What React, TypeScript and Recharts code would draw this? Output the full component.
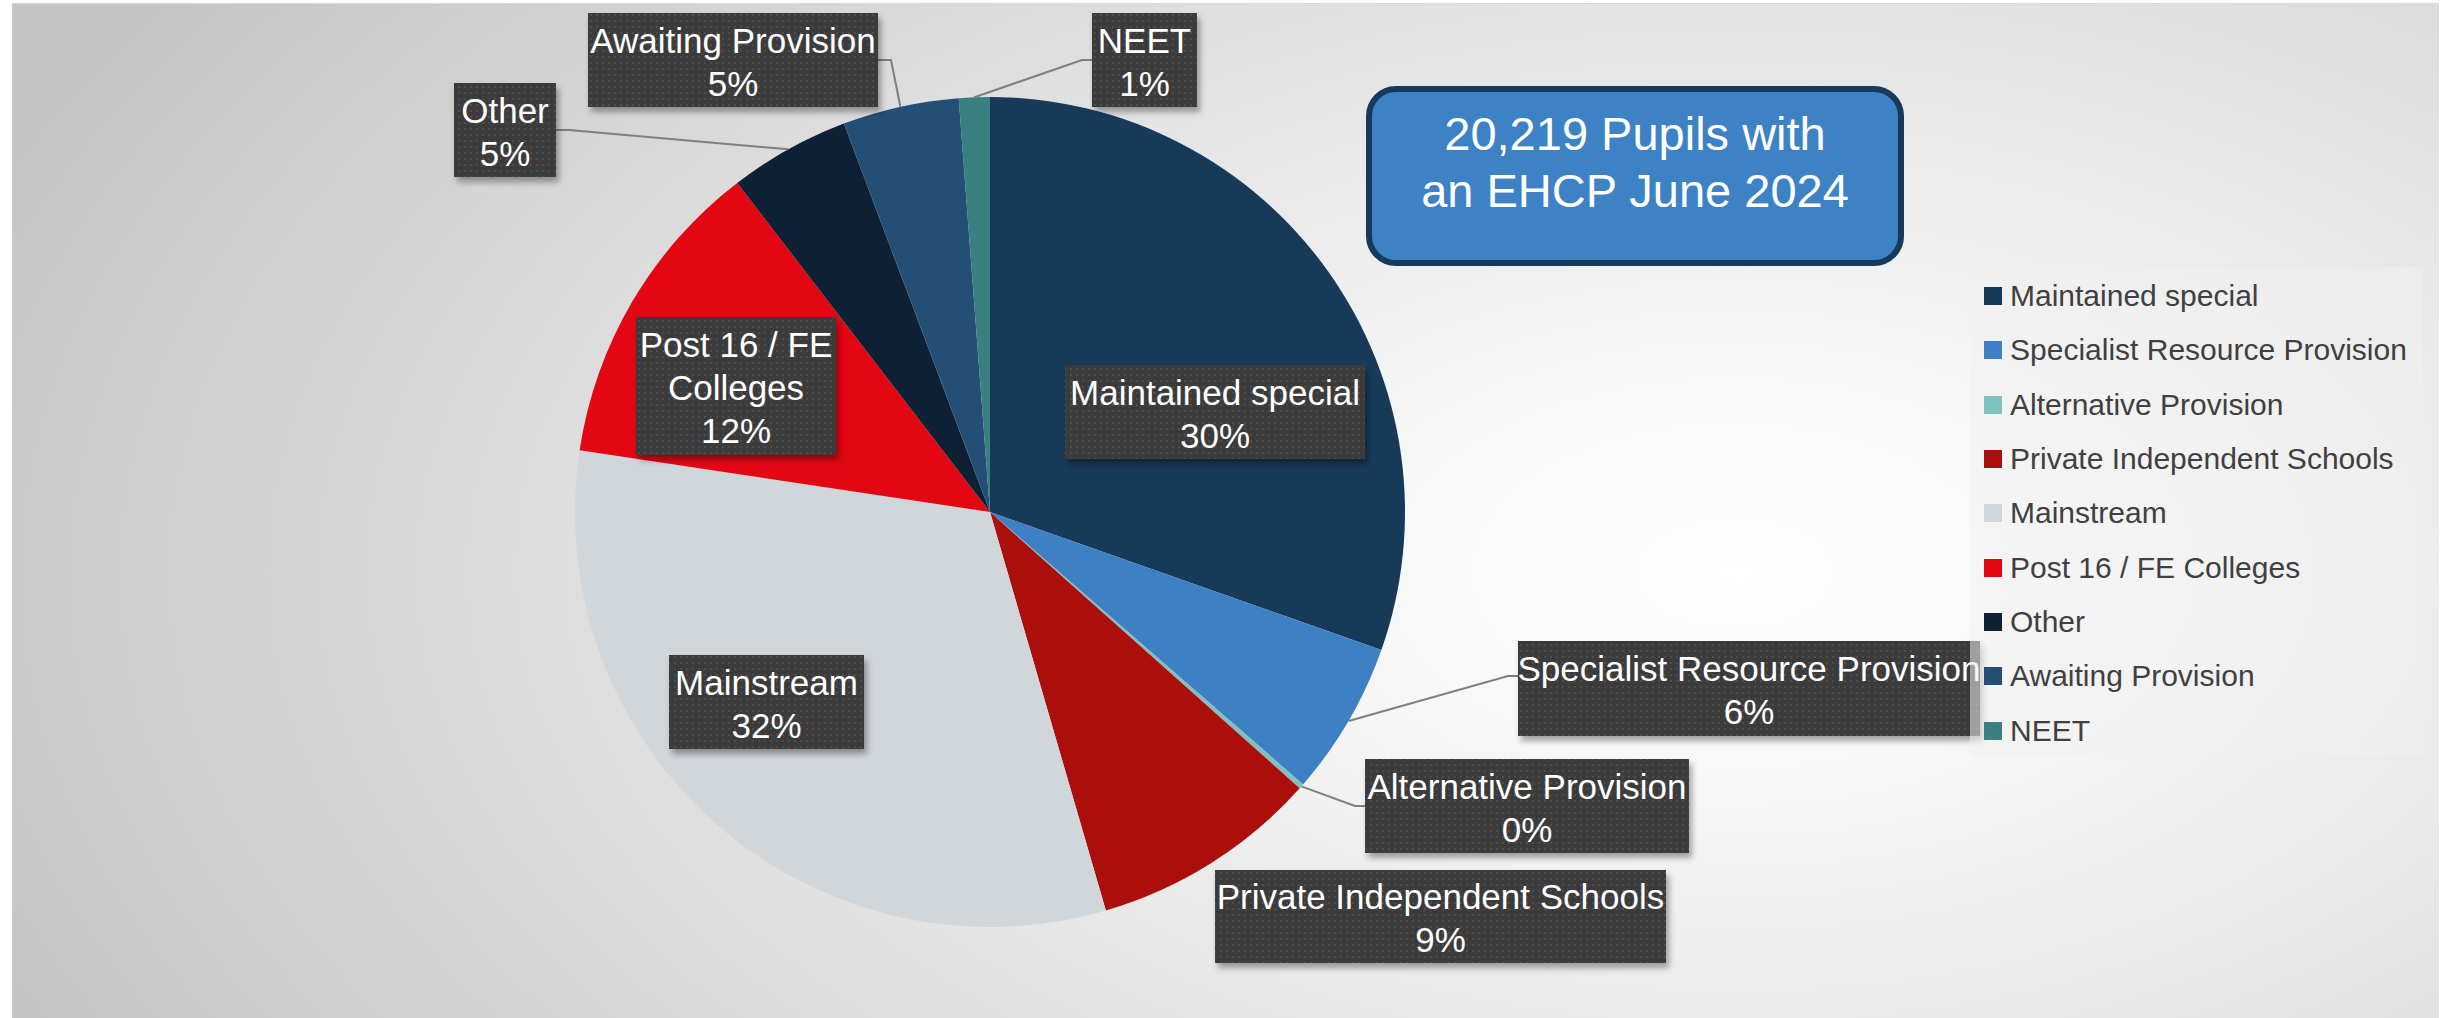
import React from "react";
import { PieChart, Pie, Cell, Legend } from "recharts";

// EHCP placements, June 2024 (pupil counts)
const categories = [
  "Maintained special",
  "Specialist Resource Provision",
  "Alternative Provision",
  "Private Independent Schools",
  "Mainstream",
  "Post 16 / FE Colleges",
  "Other",
  "Awaiting Provision",
  "NEET",
];
const pupils = [6146, 1213, 40, 1800, 6445, 2467, 950, 915, 243];
const colours = ["#173a59", "#3d80c4", "#7fc0c0", "#ab0f0c", "#d1d6db", "#e30613", "#0e2033", "#234e76", "#3b8080"];
const labelText: Record<string, string[]> = { "Post 16 / FE Colleges": ["Post 16 / FE", "Colleges"] };
const titleLines = ["20,219 Pupils with", "an EHCP June 2024"];

const data = categories.map((name, i) => ({ name, value: pupils[i] }));

const FONT = "'Liberation Sans', Arial, sans-serif";
const RAD = Math.PI / 180;

// where each data label box sits, relative to the pie centre
type Box = { dx: number; dy: number; w: number; h: number; side?: "left" | "right"; ly?: number };
const boxes: Record<string, Box> = {
  "Maintained special": { dx: 75, dy: -147, w: 300, h: 94 },
  "Specialist Resource Provision": { dx: 528, dy: 129, w: 462, h: 95, side: "left", ly: 35 },
  "Alternative Provision": { dx: 375, dy: 247, w: 324, h: 94, side: "left" },
  "Private Independent Schools": { dx: 225, dy: 358, w: 451, h: 93 },
  Mainstream: { dx: -321, dy: 143, w: 195, h: 94 },
  "Post 16 / FE Colleges": { dx: -354, dy: -195, w: 200, h: 138 },
  Other: { dx: -536, dy: -429, w: 102, h: 94, side: "right" },
  "Awaiting Provision": { dx: -402, dy: -499, w: 290, h: 94, side: "right" },
  NEET: { dx: 102, dy: -499, w: 105, h: 94, side: "left" },
};

const renderLabel = (p: any) => {
  const { cx, cy, midAngle, outerRadius, name, percent, index } = p;
  const b = boxes[name];
  if (!b) return null;
  const x = cx + b.dx;
  const y = cy + b.dy;
  const lines = [...(labelText[name] ?? [name]), `${Math.round(percent * 100)}%`];
  const n = lines.length;
  let leader = null;
  if (b.side) {
    const px = cx + outerRadius * Math.cos(-midAngle * RAD);
    const py = cy + outerRadius * Math.sin(-midAngle * RAD);
    const ly = y + (b.ly ?? b.h / 2);
    const ex = b.side === "left" ? x : x + b.w;
    const kx = b.side === "left" ? ex - 10 : ex + 13;
    leader = <polyline points={`${px},${py} ${kx},${ly} ${ex},${ly}`} fill="none" stroke="#7f7f7f" strokeWidth={2} />;
  }
  return (
    <g key={name}>
      {index === 0 && (
        <defs>
          <pattern id="dots" width="6" height="6" patternUnits="userSpaceOnUse">
            <rect width="6" height="6" fill="#3a3a3a" />
            <rect x="2" y="2" width="2" height="2" fill="#4e4e4e" />
          </pattern>
          <filter id="boxShadow" x="-10%" y="-10%" width="130%" height="140%">
            <feDropShadow dx="3" dy="5" stdDeviation="3" floodColor="#000" floodOpacity="0.35" />
          </filter>
        </defs>
      )}
      {leader}
      <rect x={x} y={y} width={b.w} height={b.h} fill="url(#dots)" filter="url(#boxShadow)" />
      {lines.map((t, i) => (
        <text key={i} x={x + b.w / 2} y={y + b.h / 2 + (i - (n - 1) / 2) * 43 + 14} textAnchor="middle"
          fill="#ffffff" fontFamily={FONT} fontSize={35}>
          {t}
        </text>
      ))}
    </g>
  );
};

const renderLegend = () => (
  <div style={{ background: "rgba(240,240,240,0.55)", width: 453, height: 490, boxSizing: "border-box", paddingTop: 2 }}>
    {categories.map((c, i) => (
      <div key={c} style={{ display: "flex", alignItems: "center", height: 54.3, paddingLeft: 14 }}>
        <div style={{ width: 18, height: 18, background: colours[i], marginRight: 8 }} />
        <span style={{ fontFamily: FONT, fontSize: 30, color: "#404040", whiteSpace: "nowrap" }}>{c}</span>
      </div>
    ))}
  </div>
);

export default function App() {
  return (
    <div style={{ position: "absolute", left: 0, top: 0, width: 2453, height: 1018, background: "#fff", overflow: "hidden" }}>
      <div style={{
        position: "absolute", left: 12, top: 3, width: 2427, height: 1015,
        borderTop: "1px solid #d8d8d8",
        background: "radial-gradient(ellipse 78% 105% at 71% 56%, #ffffff 0%, #f7f7f7 20%, #e2e2e2 55%, #c4c4c4 100%)",
      }} />
      <div style={{ position: "absolute", left: 0, top: 0 }}>
        <PieChart width={2453} height={1018} margin={{ top: 0, right: 0, bottom: 0, left: 0 }}>
          <Pie data={data} dataKey="value" nameKey="name" cx={990} cy={512} outerRadius={415}
            startAngle={90} endAngle={-270} stroke="none" label={renderLabel} labelLine={false}
            isAnimationActive={false}>
            {data.map((d, i) => <Cell key={d.name} fill={colours[i]} />)}
          </Pie>
          <Legend content={renderLegend} layout="vertical"
            wrapperStyle={{ position: "absolute", left: 1970, top: 267, width: 453, height: 490 }} />
        </PieChart>
      </div>
      <div style={{
        position: "absolute", left: 1366, top: 86, width: 538, height: 180, boxSizing: "border-box",
        border: "6px solid #17395a", borderRadius: 30, background: "#3d82c4",
      }}>
        <div style={{ position: "absolute", left: 0, right: 0, top: 13, textAlign: "center", fontFamily: FONT,
          fontSize: 47, lineHeight: "57px", color: "#fff" }}>
          {titleLines.map((t) => <div key={t}>{t}</div>)}
        </div>
      </div>
    </div>
  );
}
